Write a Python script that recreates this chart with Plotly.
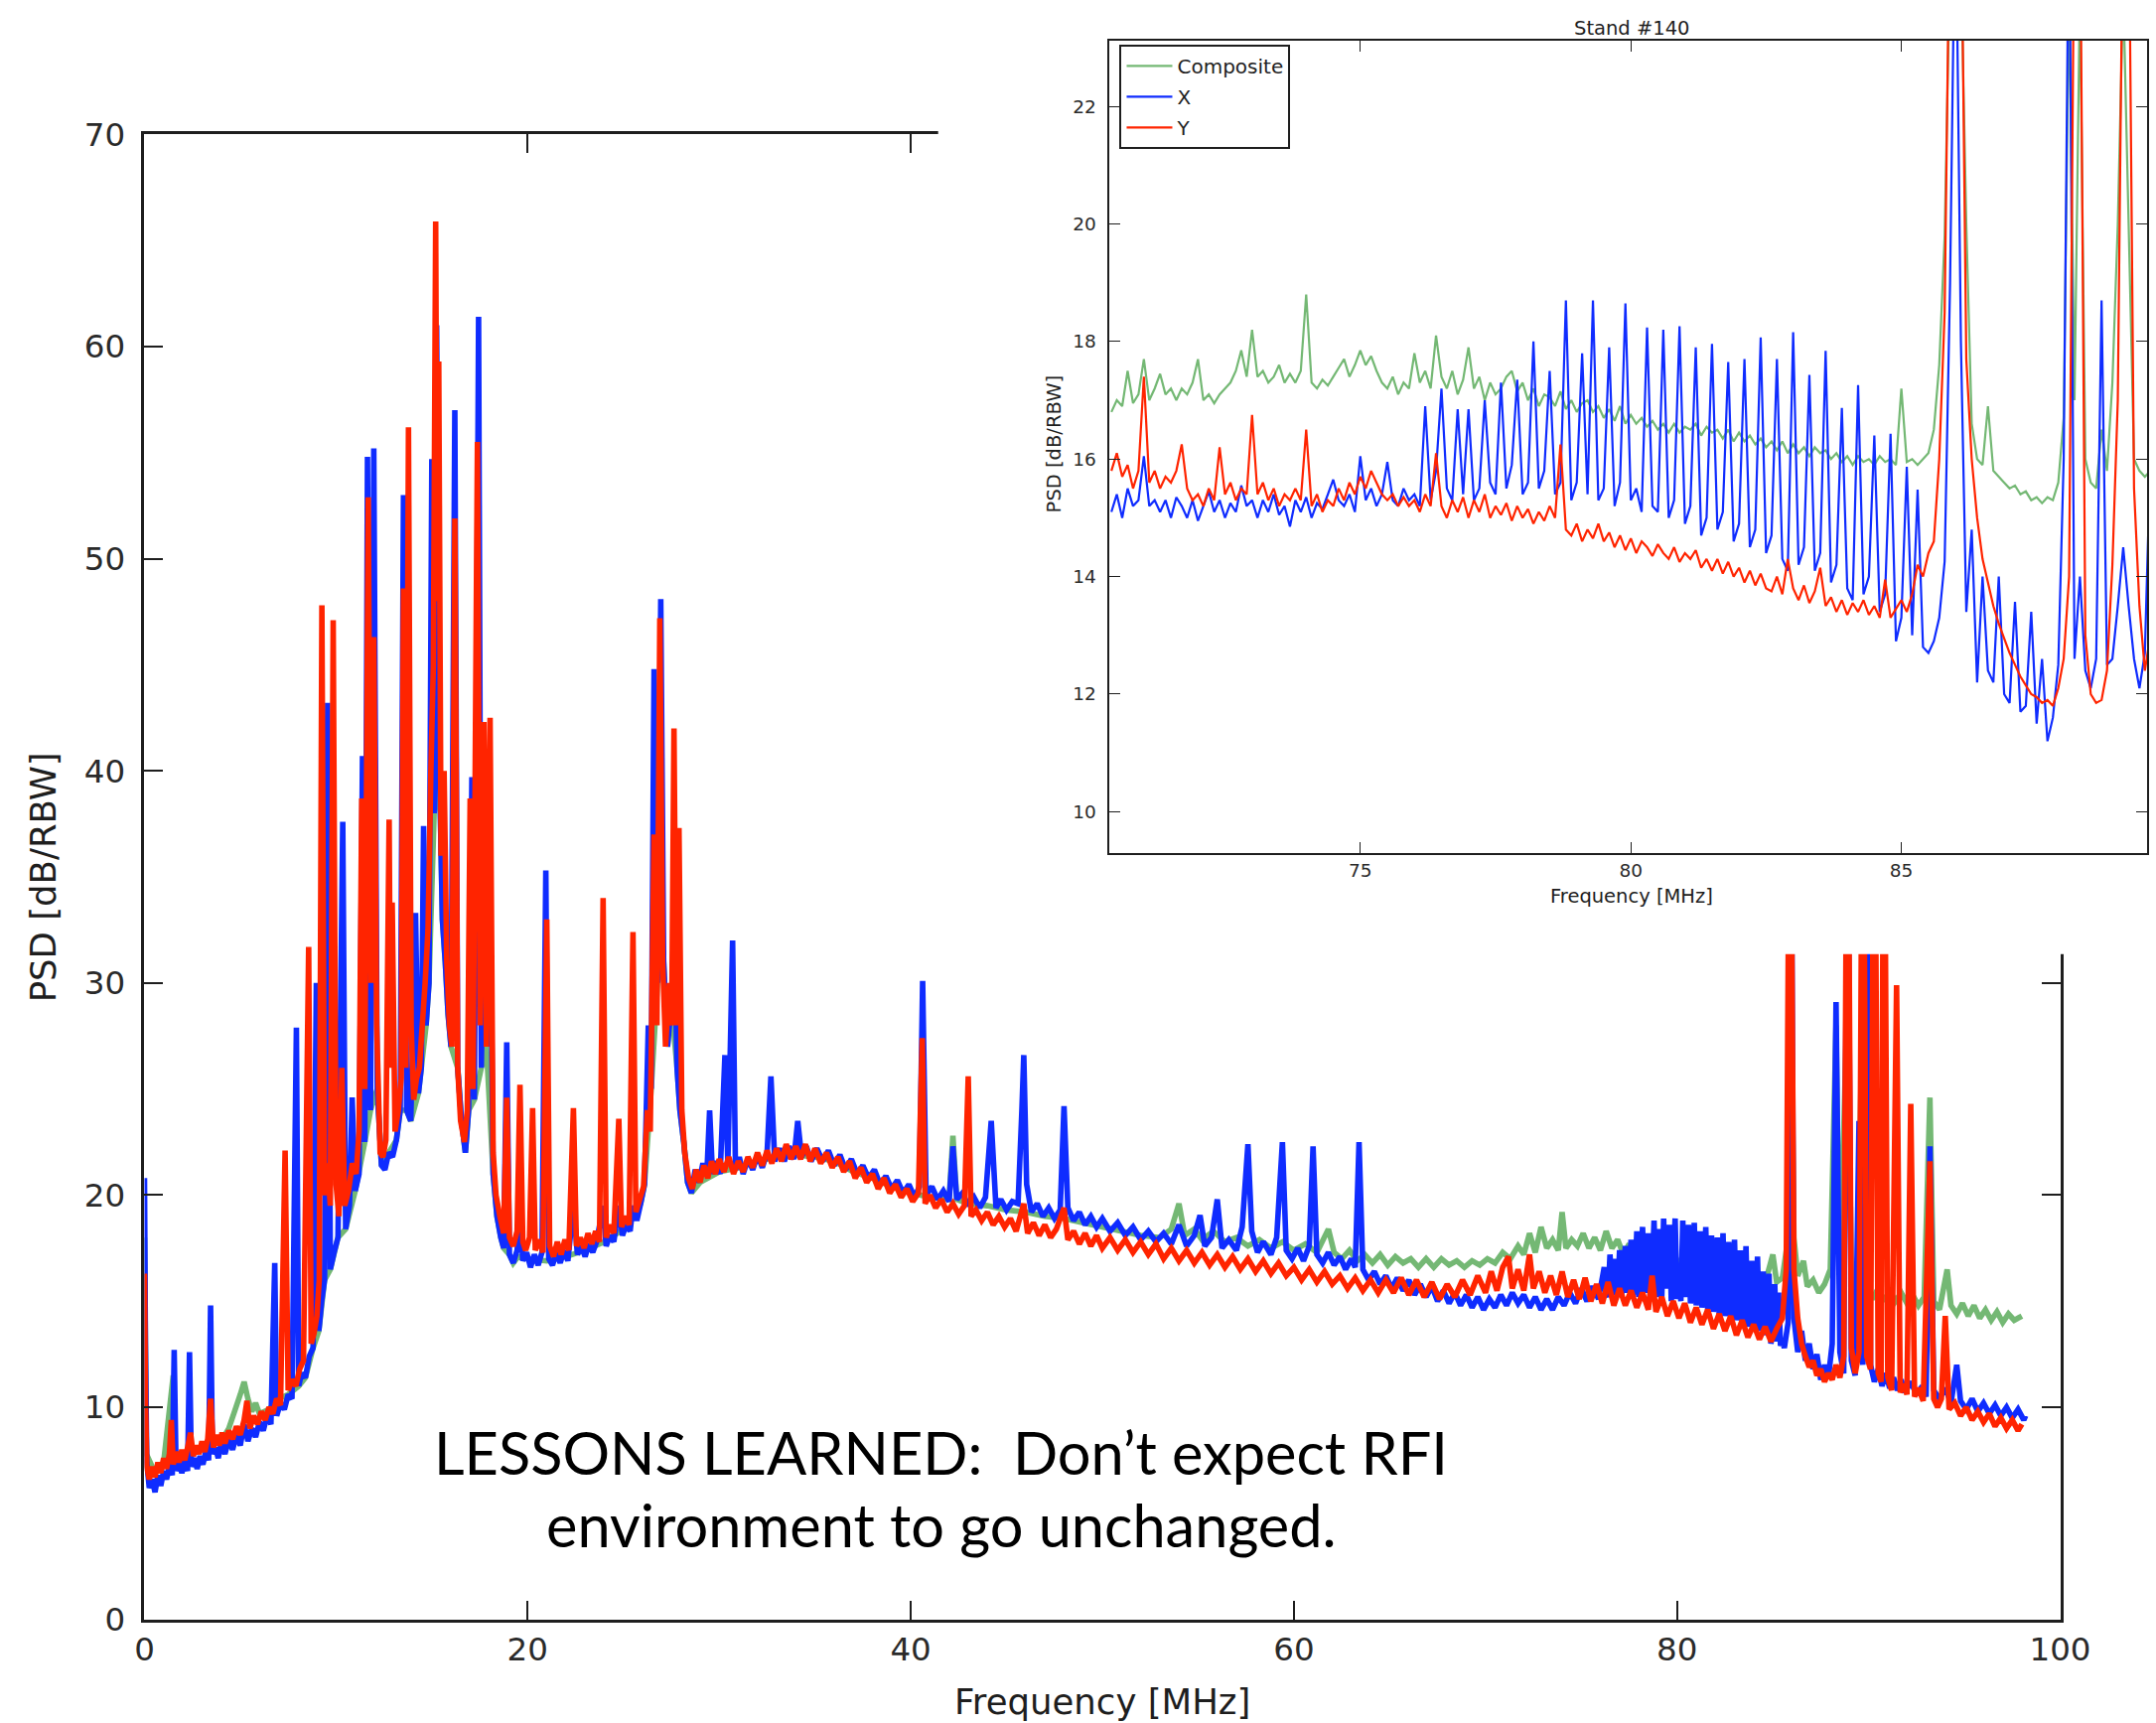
import plotly.graph_objects as go

# ---------------------------------------------------------------- main spectrum
# (frequency MHz, PSD dB/RBW) samples for each polarisation, 0-98 MHz
COMPOSITE_POINTS = [
    (0.0, 18.0), (0.1, 7.8), (0.5, 7.0), (1.0, 7.4), (1.5, 11.5), (1.6, 7.6), (2.0, 7.6), (2.5, 7.9),
    (3.0, 8.0), (3.5, 8.2), (4.0, 8.4), (4.4, 9.0), (4.7, 9.8), (5.0, 10.6), (5.2, 11.2), (5.4, 10.4),
    (5.6, 9.8), (5.8, 10.2), (6.0, 9.7), (6.5, 9.9), (7.0, 10.4), (7.5, 10.6), (8.05, 11.0),
    (8.4, 11.4), (8.8, 12.8), (9.1, 13.6), (9.4, 16.0), (9.7, 16.5), (10.1, 18.0), (10.5, 18.4),
    (11.0, 20.2), (11.5, 22.5), (11.8, 24.0), (12.15, 25.0), (12.37, 21.4), (12.75, 22.0),
    (13.15, 22.6), (13.35, 24.0), (13.68, 24.0), (13.9, 23.5), (14.3, 24.8), (14.45, 26.0),
    (14.7, 28.0), (14.85, 30.0), (15.12, 38.0), (15.4, 40.0), (15.55, 33.0), (15.7, 31.0),
    (15.85, 28.5), (16.0, 27.0), (16.35, 26.0), (16.55, 23.5), (16.75, 22.0), (16.92, 24.0),
    (17.22, 24.5), (17.58, 26.0), (17.85, 27.0), (18.2, 21.0), (18.4, 19.0), (18.6, 18.0),
    (18.75, 17.5), (19.05, 17.2), (19.25, 16.8), (19.5, 17.1), (20.0, 17.0), (21.0, 16.9),
    (22.0, 17.1), (23.0, 17.4), (24.0, 17.8), (25.0, 18.4), (25.9, 19.6), (26.1, 20.5), (26.45, 25.0),
    (26.78, 30.0), (27.1, 31.0), (27.3, 27.0), (27.5, 29.0), (27.8, 26.0), (27.95, 24.0), (28.15, 22.5),
    (28.35, 20.6), (28.55, 20.1), (29.0, 20.6),
    (30.0, 21.1), (31.0, 21.3), (32.0, 21.6), (33.0, 21.8), (34.0, 21.9), (35.0, 21.8), (36.0, 21.6),
    (37.0, 21.1), (38.0, 20.8), (39.0, 20.4), (40.0, 20.1), (41.0, 19.9), (42.0, 19.8), (42.2, 22.8),
    (42.4, 19.8), (43.0, 19.6), (44.0, 19.5), (45.0, 19.3), (46.0, 19.2), (47.0, 19.0), (48.0, 18.9),
    (49.0, 18.7), (50.0, 18.5), (51.0, 18.3), (52.0, 18.1), (53.0, 18.0), (53.6, 18.4), (54.0, 19.6),
    (54.3, 18.1), (54.8, 18.4), (55.2, 17.9), (55.8, 18.3), (56.4, 17.8), (57.0, 18.0), (57.6, 17.6),
    (58.2, 17.9), (58.8, 17.5), (59.4, 17.8), (60.0, 17.4), (60.6, 17.7), (61.2, 17.3), (61.8, 18.4),
    (62.1, 17.3), (62.5, 17.0), (62.9, 17.4), (63.3, 16.9), (63.7, 17.2), (64.1, 16.8), (64.5, 17.2),
    (64.9, 16.7), (65.3, 17.1), (65.7, 16.8), (66.1, 17.0), (66.5, 16.6), (66.9, 17.0), (67.3, 16.6),
    (67.7, 17.0), (68.1, 16.7), (68.5, 16.9), (68.9, 16.6), (69.3, 16.9), (69.7, 16.7), (70.1, 17.0),
    (70.5, 16.8), (70.9, 17.3), (71.3, 17.0), (71.7, 17.6), (72.0, 17.2), (72.3, 18.2), (72.6, 17.3),
    (72.9, 18.5), (73.2, 17.5), (73.5, 17.9), (73.8, 17.4), (74.0, 19.2), (74.2, 17.5), (74.5, 17.9),
    (74.8, 17.6), (75.1, 18.2), (75.4, 17.5), (75.7, 18.0), (76.0, 17.4), (76.3, 18.3), (76.6, 17.5),
    (76.9, 17.9), (77.2, 17.2), (77.5, 17.7), (77.8, 17.1), (78.1, 17.6), (78.4, 17.0), (78.7, 17.4),
    (79.0, 16.9), (79.3, 17.2), (79.6, 16.8), (79.9, 17.1), (80.2, 16.6), (80.5, 16.9), (80.8, 16.5),
    (81.1, 16.8), (81.4, 16.4), (81.7, 16.7), (82.0, 16.3), (82.3, 16.6), (82.6, 16.2), (82.9, 16.5),
    (83.2, 16.1), (83.5, 16.4), (83.8, 16.0), (84.1, 16.3), (84.4, 15.9), (84.7, 16.2), (85.0, 17.2),
    (85.2, 15.9), (85.5, 16.1), (85.8, 18.0), (85.95, 30.0), (86.1, 18.0), (86.3, 16.2), (86.6, 16.9),
    (86.8, 15.7), (87.1, 16.0), (87.4, 15.4), (87.7, 15.8), (88.0, 16.5), (88.3, 28.0), (88.5, 15.8),
    (88.9, 30.0), (89.1, 16.0), (89.4, 15.3), (89.7, 30.0), (89.9, 15.6), (90.2, 15.1), (90.5, 15.6),
    (90.8, 15.0), (91.1, 15.5), (91.4, 15.0), (91.7, 15.4), (92.0, 14.9), (92.3, 15.3), (92.6, 14.8),
    (92.9, 15.2), (93.2, 24.6), (93.4, 15.0), (93.7, 14.6), (94.1, 16.5), (94.3, 14.8), (94.6, 14.4),
    (94.9, 14.9), (95.2, 14.3), (95.5, 14.8), (95.8, 14.2), (96.1, 14.6), (96.4, 14.1), (96.7, 14.5),
    (97.0, 14.0), (97.3, 14.4), (97.6, 14.1), (98.0, 14.3),
]

X_POL_POINTS = [
    (0.0, 20.8), (0.05, 13.0), (0.12, 7.4), (0.25, 6.2), (0.4, 6.6), (0.55, 6.0), (0.7, 6.8), (0.85, 6.3),
    (1.0, 7.0), (1.15, 6.6), (1.3, 7.2), (1.45, 6.8), (1.55, 12.7), (1.65, 7.0), (1.8, 7.4), (1.95, 6.9),
    (2.1, 7.5), (2.25, 7.0), (2.35, 12.6), (2.45, 7.2), (2.6, 7.6), (2.75, 7.1), (2.9, 7.7), (3.05, 7.3),
    (3.2, 7.9), (3.35, 7.5), (3.45, 14.8), (3.55, 7.8), (3.7, 8.1), (3.85, 7.6), (4.0, 8.3), (4.2, 7.8),
    (4.4, 8.5), (4.6, 8.0), (4.8, 8.7), (5.0, 8.2), (5.2, 9.2), (5.4, 8.4), (5.6, 9.0), (5.8, 8.6),
    (6.0, 9.3), (6.2, 8.9), (6.4, 9.6), (6.6, 9.2), (6.8, 16.8), (6.9, 9.6), (7.1, 10.2), (7.3, 9.9),
    (7.5, 10.6), (7.7, 10.4), (7.93, 27.9), (8.05, 11.0), (8.2, 11.6), (8.4, 11.4), (8.6, 12.4),
    (8.8, 12.8), (8.97, 30.0), (9.1, 13.6), (9.25, 15.0), (9.4, 16.0), (9.56, 43.2), (9.7, 16.5),
    (9.9, 17.3), (10.1, 18.0), (10.35, 37.6), (10.5, 18.4), (10.7, 19.5), (10.84, 24.6), (11.0, 20.2),
    (11.2, 21.0), (11.38, 40.7), (11.5, 22.5), (11.64, 54.8), (11.8, 24.0), (11.97, 55.2), (12.15, 25.0),
    (12.37, 21.4), (12.55, 21.2), (12.75, 22.0), (12.95, 21.8), (13.15, 22.6), (13.35, 24.0),
    (13.52, 53.0), (13.68, 24.0), (13.9, 23.5), (14.15, 33.3), (14.3, 24.8), (14.45, 26.0),
    (14.57, 37.4), (14.7, 28.0), (14.85, 30.0), (15.0, 54.7), (15.12, 38.0), (15.25, 61.0),
    (15.4, 40.0), (15.55, 33.0), (15.7, 31.0), (15.85, 28.5), (16.0, 27.0), (16.2, 57.0), (16.35, 26.0),
    (16.55, 23.5), (16.75, 22.0), (16.92, 24.0), (17.09, 39.7), (17.22, 24.5), (17.44, 61.4),
    (17.58, 26.0), (17.72, 34.0), (17.85, 27.0), (18.04, 35.0), (18.2, 21.0), (18.4, 19.0), (18.6, 18.0),
    (18.75, 17.5), (18.91, 27.2), (19.05, 17.2), (19.25, 16.8), (19.45, 17.4), (19.6, 19.0),
    (19.75, 16.9), (19.95, 17.3), (20.15, 16.6), (20.35, 17.2), (20.55, 16.7), (20.75, 17.3),
    (20.95, 35.3), (21.1, 17.0), (21.3, 16.7), (21.5, 17.3), (21.7, 16.8), (21.9, 17.4), (22.1, 16.9),
    (22.39, 19.5), (22.6, 17.2), (22.8, 17.6), (23.0, 17.1), (23.2, 17.7), (23.4, 17.3), (23.6, 17.8),
    (23.94, 19.5), (24.1, 17.6), (24.3, 18.1), (24.5, 17.8), (24.76, 19.5), (24.95, 18.1), (25.15, 18.6),
    (25.35, 18.3), (25.5, 19.5), (25.7, 18.8), (25.9, 19.6), (26.1, 20.5), (26.3, 28.0), (26.45, 25.0),
    (26.6, 44.8), (26.78, 30.0), (26.95, 48.1), (27.1, 31.0), (27.3, 27.0), (27.5, 29.0), (27.65, 33.0),
    (27.8, 26.0), (27.95, 24.0), (28.15, 22.5), (28.35, 20.6), (28.55, 20.1), (28.75, 21.2),
    (28.95, 20.6), (29.15, 21.5), (29.35, 20.9), (29.5, 24.0), (29.65, 21.0), (29.85, 21.6),
    (30.05, 21.0), (30.3, 26.6), (30.45, 21.4), (30.7, 32.0), (30.85, 21.2), (31.05, 21.8),
    (31.25, 21.0), (31.5, 21.7), (31.75, 21.2), (32.0, 21.9), (32.25, 21.3), (32.5, 22.0), (32.7, 25.6),
    (32.9, 21.6), (33.15, 22.2), (33.4, 21.6), (33.65, 22.3), (33.9, 21.7), (34.1, 23.5), (34.3, 21.8),
    (34.55, 22.3), (34.8, 21.6), (35.1, 22.2), (35.4, 21.6), (35.7, 22.1), (36.0, 21.4), (36.3, 21.9),
    (36.6, 21.2), (36.9, 21.7), (37.2, 21.0), (37.5, 21.4), (37.8, 20.8), (38.1, 21.2), (38.4, 20.5),
    (38.7, 20.9), (39.0, 20.3), (39.3, 20.7), (39.6, 20.1), (39.9, 20.5), (40.2, 19.9), (40.45, 20.4),
    (40.62, 30.1), (40.8, 20.0), (41.1, 20.4), (41.4, 19.8), (41.7, 20.2), (42.0, 19.7), (42.2, 22.3),
    (42.4, 19.8), (42.7, 20.1), (43.0, 19.5), (43.3, 19.9), (43.6, 19.4), (43.9, 19.9), (44.2, 23.5),
    (44.45, 19.4), (44.7, 19.8), (45.0, 19.3), (45.3, 19.7), (45.6, 19.6), (45.8, 24.0), (45.9, 26.6),
    (46.05, 20.5), (46.3, 19.2), (46.6, 19.6), (46.9, 19.0), (47.2, 19.4), (47.5, 18.9), (47.8, 19.3),
    (48.0, 24.2), (48.2, 19.4), (48.5, 18.8), (48.8, 19.2), (49.1, 18.6), (49.4, 19.0), (49.7, 18.5),
    (50.0, 18.9), (50.4, 18.3), (50.8, 18.7), (51.2, 18.1), (51.6, 18.5), (52.0, 17.9), (52.4, 18.3),
    (52.8, 17.8), (53.2, 18.2), (53.6, 17.7), (54.0, 18.6), (54.4, 17.6), (54.8, 18.1), (55.1, 19.05),
    (55.35, 17.6), (55.7, 18.0), (56.0, 19.8), (56.25, 17.5), (56.6, 17.9), (57.0, 17.4), (57.3, 18.5),
    (57.6, 22.4), (57.8, 18.3), (58.1, 17.3), (58.4, 17.8), (58.8, 17.2), (59.1, 18.0), (59.4, 22.5),
    (59.6, 17.4), (59.9, 17.0), (60.2, 17.5), (60.5, 16.9), (60.8, 17.6), (61.0, 22.3), (61.2, 17.2),
    (61.5, 16.8), (61.8, 17.3), (62.1, 16.7), (62.4, 17.1), (62.7, 16.5), (63.0, 17.0), (63.2, 16.6),
    (63.4, 22.5), (63.6, 16.5), (63.9, 16.0), (64.2, 16.4), (64.5, 15.8), (64.8, 16.2), (65.1, 15.6),
    (65.4, 16.1), (65.7, 15.5), (66.0, 16.0), (66.3, 15.3), (66.6, 15.8), (66.9, 15.2), (67.2, 15.7),
    (67.5, 15.0), (67.8, 15.5), (68.1, 14.9), (68.4, 15.4), (68.7, 14.8), (69.0, 15.3), (69.3, 14.7),
    (69.6, 15.2), (69.9, 14.6), (70.2, 15.1), (70.5, 14.7), (70.8, 15.3), (71.1, 14.8), (71.4, 15.4),
    (71.7, 14.9), (72.0, 15.3), (72.3, 14.7), (72.6, 15.2), (72.9, 14.6), (73.2, 15.1), (73.5, 14.6),
    (73.8, 15.2), (74.1, 14.8), (74.4, 15.4), (74.7, 14.9), (75.0, 15.6), (75.3, 15.0), (75.6, 15.7),
    (75.9, 15.1),
    # dense comb of narrow lines between 76 and 86 MHz
    (76.2, 16.6), (76.3, 15.4), (76.4, 15.2), (76.5, 17.2), (76.6, 15.6), (76.7, 15.3), (76.8, 17.0),
    (76.9, 15.4), (77.0, 17.4), (77.1, 15.3), (77.2, 15.8), (77.3, 17.6), (77.4, 15.4), (77.5, 16.2),
    (77.6, 17.9), (77.7, 15.3), (77.8, 16.0), (77.9, 18.3), (78.0, 15.2), (78.1, 16.4), (78.2, 18.5),
    (78.3, 15.4), (78.4, 16.6), (78.5, 18.2), (78.6, 15.1), (78.7, 16.3), (78.8, 18.8), (78.9, 15.2),
    (79.0, 16.8), (79.1, 18.4), (79.2, 15.0), (79.3, 18.9), (79.4, 15.6), (79.5, 16.2), (79.6, 18.6),
    (79.7, 15.0), (79.8, 16.5), (79.9, 18.9), (80.0, 15.1), (80.1, 16.4), (80.2, 15.0), (80.3, 18.8),
    (80.4, 15.2), (80.5, 16.3), (80.6, 18.6), (80.7, 14.9), (80.8, 16.0), (80.9, 18.7), (81.0, 14.8),
    (81.1, 16.1), (81.2, 18.3), (81.3, 14.7), (81.4, 15.8), (81.5, 18.5), (81.6, 14.6), (81.7, 15.9),
    (81.8, 18.1), (81.9, 14.5), (82.0, 15.6), (82.1, 18.0), (82.2, 14.4), (82.3, 15.5), (82.4, 18.2),
    (82.5, 14.3), (82.6, 15.4), (82.7, 17.8), (82.8, 14.2), (82.9, 14.6), (83.0, 17.9), (83.1, 14.1),
    (83.2, 15.0), (83.3, 17.4), (83.4, 14.0), (83.5, 14.9), (83.6, 17.6), (83.7, 13.8), (83.8, 14.6),
    (83.9, 16.9), (84.0, 13.7), (84.1, 13.9), (84.2, 17.1), (84.3, 13.6), (84.4, 14.4), (84.5, 16.4),
    (84.6, 13.4), (84.7, 14.0), (84.8, 16.3), (84.9, 13.0), (85.0, 13.6), (85.1, 15.8), (85.2, 13.1),
    (85.3, 15.4), (85.4, 12.9), (85.5, 13.2), (85.6, 12.8), (85.7, 13.4), (85.8, 14.0),
    (85.95, 40.0), (86.1, 14.2), (86.3, 12.6), (86.5, 13.6), (86.7, 12.2), (86.9, 13.0),
    (87.1, 11.8), (87.3, 12.5), (87.5, 11.3), (87.7, 12.0), (87.9, 11.4), (88.1, 13.0), (88.3, 29.1),
    (88.5, 12.6), (88.7, 11.6), (88.9, 40.0), (89.1, 12.2), (89.3, 11.5), (89.5, 23.5), (89.7, 12.0),
    (89.9, 40.0), (90.1, 12.0), (90.3, 11.2), (90.5, 11.8), (90.7, 11.0), (90.9, 11.6), (91.1, 10.9),
    (91.3, 11.4), (91.5, 10.8), (91.7, 11.3), (91.9, 10.7), (92.2, 11.2), (92.5, 10.6), (92.8, 11.0),
    (93.0, 10.5), (93.2, 22.3), (93.4, 10.8), (93.7, 10.4), (94.0, 10.9), (94.3, 10.2), (94.6, 12.0),
    (94.8, 10.3), (95.1, 9.9), (95.4, 10.4), (95.7, 9.8), (96.0, 10.2), (96.3, 9.7), (96.6, 10.1),
    (96.9, 9.6), (97.2, 10.0), (97.5, 9.5), (97.8, 9.9), (98.1, 9.4), (98.2, 9.6),
]

Y_POL_POINTS = [
    (0.0, 16.3), (0.05, 10.5), (0.12, 7.2), (0.25, 6.6), (0.4, 7.2), (0.55, 6.7), (0.7, 7.4), (0.85, 6.9),
    (1.0, 7.6), (1.15, 7.1), (1.3, 7.8), (1.4, 9.4), (1.5, 7.3), (1.65, 7.9), (1.8, 7.4), (1.95, 8.0),
    (2.1, 7.5), (2.25, 8.1), (2.4, 8.8), (2.55, 7.7), (2.7, 8.2), (2.85, 7.8), (3.0, 8.4), (3.15, 7.9),
    (3.3, 8.5), (3.45, 10.4), (3.6, 8.1), (3.75, 8.7), (3.9, 8.2), (4.05, 8.8), (4.2, 8.3), (4.4, 8.9),
    (4.6, 8.5), (4.8, 9.1), (5.0, 8.7), (5.2, 9.4), (5.35, 10.3), (5.5, 9.0), (5.7, 9.6), (5.9, 9.2),
    (6.1, 9.8), (6.3, 9.4), (6.5, 10.0), (6.7, 9.7), (6.9, 10.4), (7.1, 10.1), (7.34, 22.1), (7.5, 10.8),
    (7.7, 11.3), (7.9, 11.0), (8.1, 11.8), (8.3, 12.2), (8.57, 31.7), (8.7, 13.0), (8.85, 13.5),
    (9.0, 14.3), (9.12, 16.0), (9.26, 47.8), (9.4, 20.0), (9.55, 21.5), (9.7, 19.5), (9.85, 47.1),
    (10.0, 20.5), (10.15, 19.0), (10.3, 26.0), (10.45, 19.5), (10.65, 20.2), (10.85, 21.5), (11.05, 21.0),
    (11.2, 23.0), (11.34, 38.7), (11.5, 25.0), (11.68, 52.9), (11.83, 30.0), (11.97, 46.3), (12.12, 28.0),
    (12.3, 22.0), (12.45, 21.8), (12.6, 22.6), (12.77, 37.7), (12.85, 26.0), (12.93, 33.8), (13.08, 23.0),
    (13.25, 24.0), (13.4, 25.5), (13.52, 48.6), (13.64, 26.0), (13.78, 56.2), (13.92, 28.0), (14.05, 24.5),
    (14.2, 25.5), (14.35, 26.0), (14.5, 28.0), (14.65, 30.0), (14.8, 32.5), (14.95, 40.0), (15.08, 45.0),
    (15.2, 65.9), (15.28, 48.0), (15.36, 59.3), (15.48, 36.0), (15.64, 40.0), (15.78, 31.0),
    (15.92, 28.0), (16.05, 27.0), (16.2, 51.9), (16.35, 26.0), (16.5, 23.5), (16.7, 22.5), (16.85, 24.0),
    (17.0, 38.7), (17.15, 25.0), (17.38, 55.5), (17.52, 28.0), (17.72, 42.3), (17.85, 27.0),
    (18.04, 42.5), (18.2, 22.0), (18.35, 20.0), (18.55, 19.0), (18.75, 18.2), (18.91, 24.6),
    (19.05, 18.0), (19.25, 17.6), (19.45, 18.3), (19.6, 25.2), (19.75, 17.8), (19.9, 17.4), (20.1, 18.0),
    (20.26, 24.1), (20.4, 17.4), (20.6, 17.9), (20.8, 17.3), (21.0, 33.0), (21.15, 17.6), (21.35, 17.1),
    (21.55, 17.8), (21.75, 17.2), (21.95, 17.9), (22.15, 17.4), (22.39, 24.1), (22.55, 17.6),
    (22.75, 18.0), (22.95, 17.5), (23.15, 18.2), (23.35, 17.7), (23.55, 18.3), (23.75, 17.8),
    (23.94, 34.0), (24.1, 18.0), (24.3, 18.6), (24.5, 18.2), (24.76, 23.6), (24.9, 18.5), (25.1, 19.0),
    (25.3, 18.6), (25.5, 32.4), (25.65, 19.2), (25.85, 19.8), (26.05, 20.4), (26.25, 24.0), (26.4, 23.0),
    (26.6, 37.0), (26.75, 28.0), (26.9, 47.2), (27.05, 31.0), (27.2, 27.0), (27.4, 30.0), (27.52, 28.0),
    (27.64, 42.0), (27.76, 28.0), (27.9, 37.3), (28.05, 24.0), (28.2, 22.0), (28.4, 20.8), (28.6, 20.3),
    (28.8, 21.2), (29.0, 20.6), (29.2, 21.4), (29.4, 20.8), (29.6, 21.6), (29.8, 21.0), (30.0, 21.7),
    (30.25, 21.1), (30.5, 21.8), (30.75, 21.0), (31.0, 21.6), (31.25, 21.1), (31.5, 21.8), (31.75, 21.3),
    (32.0, 22.0), (32.25, 21.4), (32.5, 22.1), (32.75, 21.5), (33.0, 22.2), (33.25, 21.6), (33.5, 22.4),
    (33.75, 21.7), (34.0, 22.3), (34.25, 21.7), (34.5, 22.4), (34.75, 21.6), (35.0, 22.2), (35.3, 21.5),
    (35.6, 22.0), (35.9, 21.3), (36.2, 21.8), (36.5, 21.1), (36.8, 21.6), (37.1, 20.8), (37.4, 21.3),
    (37.7, 20.6), (38.0, 21.0), (38.3, 20.3), (38.6, 20.8), (38.9, 20.1), (39.2, 20.5), (39.5, 19.9),
    (39.8, 20.3), (40.1, 19.7), (40.4, 20.1), (40.6, 27.4), (40.75, 19.6), (41.0, 20.0), (41.3, 19.4),
    (41.6, 19.8), (41.9, 19.2), (42.2, 19.6), (42.5, 19.1), (42.8, 19.5), (43.0, 25.6), (43.15, 19.0),
    (43.4, 19.3), (43.7, 18.8), (44.0, 19.2), (44.3, 18.6), (44.6, 19.0), (44.9, 18.5), (45.2, 18.9),
    (45.5, 18.3), (45.9, 19.6), (46.1, 18.2), (46.4, 18.7), (46.7, 18.1), (47.0, 18.6), (47.3, 18.0),
    (47.6, 18.4), (48.0, 19.4), (48.2, 17.9), (48.5, 18.3), (48.8, 17.7), (49.1, 18.2), (49.4, 17.6),
    (49.7, 18.1), (50.0, 17.5), (50.4, 18.0), (50.8, 17.4), (51.2, 17.9), (51.6, 17.3), (52.0, 17.8),
    (52.4, 17.2), (52.8, 17.7), (53.2, 17.0), (53.6, 17.5), (54.0, 16.9), (54.4, 17.4), (54.8, 16.8),
    (55.2, 17.3), (55.6, 16.7), (56.0, 17.2), (56.4, 16.6), (56.8, 17.1), (57.2, 16.5), (57.6, 17.0),
    (58.0, 16.4), (58.4, 16.9), (58.8, 16.3), (59.2, 16.8), (59.6, 16.2), (60.0, 16.6), (60.4, 16.0),
    (60.8, 16.5), (61.2, 15.9), (61.6, 16.4), (62.0, 15.8), (62.4, 16.2), (62.8, 15.6), (63.2, 16.1),
    (63.6, 15.5), (64.0, 16.0), (64.4, 15.4), (64.8, 16.0), (65.2, 15.4), (65.6, 16.1), (66.0, 15.3),
    (66.4, 16.0), (66.8, 15.2), (67.2, 15.9), (67.6, 15.1), (68.0, 15.8), (68.4, 15.2), (68.8, 16.0),
    (69.2, 15.3), (69.6, 16.2), (70.0, 15.4), (70.3, 16.4), (70.6, 15.5), (70.9, 16.6), (71.2, 17.1),
    (71.4, 15.6), (71.7, 16.5), (72.0, 15.5), (72.3, 17.2), (72.5, 15.6), (72.8, 16.4), (73.1, 15.4),
    (73.4, 16.2), (73.7, 15.3), (74.0, 16.4), (74.3, 15.2), (74.6, 16.0), (74.9, 15.1), (75.2, 16.1),
    (75.5, 15.0), (75.8, 15.8), (76.1, 14.9), (76.4, 15.9), (76.7, 14.8), (77.0, 15.6), (77.3, 14.8),
    (77.6, 15.5), (77.9, 14.7), (78.2, 15.4), (78.5, 14.6), (78.7, 16.2), (78.9, 14.5), (79.2, 15.2),
    (79.5, 14.3), (79.8, 15.0), (80.1, 14.2), (80.4, 14.9), (80.7, 14.0), (81.0, 14.7), (81.3, 13.9),
    (81.6, 14.6), (81.9, 13.7), (82.2, 14.4), (82.5, 13.6), (82.8, 14.3), (83.1, 13.4), (83.4, 14.1),
    (83.7, 13.3), (84.0, 13.9), (84.3, 13.2), (84.6, 13.8), (84.9, 13.1), (85.2, 13.7), (85.5, 14.2),
    (85.7, 16.5), (85.9, 45.0), (86.1, 16.5), (86.3, 14.2), (86.5, 13.0), (86.7, 12.4), (86.9, 11.9),
    (87.1, 12.2), (87.3, 11.5), (87.5, 11.8), (87.7, 11.2), (87.9, 11.6), (88.1, 11.3), (88.3, 12.0),
    (88.5, 11.4), (88.7, 12.4), (88.9, 45.0), (89.1, 12.8), (89.3, 11.6), (89.5, 12.6), (89.7, 45.0),
    (89.9, 12.4), (90.1, 11.8), (90.3, 45.0), (90.5, 11.6), (90.65, 11.2), (90.8, 45.0), (91.0, 11.4),
    (91.2, 10.8), (91.46, 29.9), (91.65, 10.7), (91.85, 11.1), (92.0, 10.6), (92.2, 24.3), (92.4, 10.5),
    (92.6, 10.9), (92.85, 10.3), (93.2, 21.6), (93.4, 10.4), (93.6, 10.0), (93.8, 10.4), (94.0, 14.3),
    (94.2, 9.9), (94.5, 10.2), (94.8, 9.6), (95.1, 10.0), (95.4, 9.4), (95.7, 9.8), (96.0, 9.3),
    (96.3, 9.7), (96.6, 9.1), (96.9, 9.5), (97.2, 9.0), (97.5, 9.4), (97.8, 8.9), (98.0, 9.2),
]

# ---------------------------------------------------------------- zoomed spectrum
# Stand #140, sampled every 0.1 MHz from 70.4 MHz; one row per MHz
ZOOM_START_MHZ = 70.4
ZOOM_STEP_MHZ = 0.1

ZOOM_COMPOSITE = [
    16.8, 17.0, 16.9, 17.5, 16.95, 17.1,
    17.7, 17.0, 17.2, 17.45, 17.1, 17.2, 17.0, 17.2, 17.1, 17.3,
    17.7, 17.0, 17.1, 16.95, 17.1, 17.2, 17.3, 17.5, 17.85, 17.4,
    18.2, 17.4, 17.5, 17.3, 17.4, 17.6, 17.3, 17.45, 17.3, 17.5,
    18.8, 17.3, 17.2, 17.35, 17.25, 17.4, 17.55, 17.7, 17.4, 17.6,
    17.85, 17.6, 17.75, 17.5, 17.3, 17.2, 17.4, 17.1, 17.3, 17.2,
    17.8, 17.3, 17.5, 17.2, 18.1, 17.4, 17.2, 17.5, 17.1, 17.35,
    17.9, 17.2, 17.4, 17.0, 17.3, 17.1, 17.2, 17.4, 17.5, 17.15,
    17.3, 17.0, 17.2, 16.9, 17.1, 17.05, 16.9, 17.15, 16.85, 17.0,
    16.8, 16.95, 17.0, 16.8, 16.9, 16.7, 16.85, 16.65, 16.9, 16.6,
    16.75, 16.6, 16.7, 16.55, 16.65, 16.5, 16.6, 16.45, 16.6, 16.45,
    16.55, 16.5, 16.6, 16.4, 16.55, 16.45, 16.5, 16.35, 16.5, 16.3,
    16.45, 16.3, 16.4, 16.25, 16.35, 16.2, 16.3, 16.15, 16.3, 16.1,
    16.25, 16.1, 16.2, 16.05, 16.2, 16.1, 16.15, 16.0, 16.1, 15.95,
    16.05, 15.9, 16.05, 15.95, 16.0, 15.9, 16.05, 15.95, 16.0, 15.9,
    17.2, 15.95, 16.0, 15.9, 16.0, 16.1, 16.5, 17.6, 19.8, 24.5,
    26.0, 24.5, 20.0, 16.6, 16.0, 15.9, 16.9, 15.8, 15.7, 15.6,
    15.5, 15.55, 15.4, 15.45, 15.3, 15.35, 15.25, 15.35, 15.3, 15.6,
    16.7, 24.0, 17.0, 24.0, 16.0, 15.6, 15.5, 16.5, 15.8, 17.3,
    20.0, 24.0, 20.0, 16.0, 15.8, 15.7, 15.8, 24.0,
]

ZOOM_X_POL = [
    15.1, 15.4, 15.0, 15.5, 15.2, 15.3,
    16.05, 15.2, 15.3, 15.1, 15.3, 15.0, 15.35, 15.2, 15.0, 15.3,
    14.95, 15.2, 15.45, 15.1, 15.3, 15.0, 15.25, 15.1, 15.55, 15.2,
    15.3, 15.0, 15.3, 15.1, 15.4, 15.05, 15.2, 14.85, 15.3, 15.1,
    15.35, 15.0, 15.25, 15.15, 15.4, 15.65, 15.3, 15.2, 15.4, 15.1,
    16.05, 15.3, 15.5, 15.2, 15.4, 15.95, 15.3, 15.2, 15.5, 15.3,
    15.4, 15.2, 16.9, 15.3, 15.8, 17.2, 15.5, 15.3, 16.85, 15.4,
    16.85, 15.3, 15.5, 17.0, 15.6, 15.4, 17.3, 15.5, 15.9, 17.35,
    15.4, 15.6, 18.0, 15.5, 15.8, 17.5, 15.4, 15.6, 18.7, 15.3,
    15.6, 17.8, 15.4, 18.7, 15.3, 15.5, 17.9, 15.2, 15.6, 18.65,
    15.3, 15.5, 15.1, 18.24, 15.2, 15.1, 18.2, 15.0, 15.3, 18.26,
    14.9, 15.2, 17.9, 14.7, 15.0, 17.96, 14.8, 15.1, 17.65, 14.6,
    14.9, 17.7, 14.5, 14.8, 18.07, 14.4, 14.7, 17.7, 14.3, 14.1,
    18.16, 14.2, 14.5, 17.43, 14.1, 14.4, 17.84, 13.9, 14.2, 16.87,
    13.8, 13.6, 17.26, 13.7, 14.0, 16.4, 13.4, 13.7, 16.43, 12.9,
    13.3, 15.87, 13.0, 15.48, 12.8, 12.7, 12.9, 13.3, 14.26, 19.0,
    26.0, 18.0, 13.4, 14.8, 12.2, 14.0, 12.4, 12.2, 14.0, 12.0,
    11.85, 13.57, 11.7, 11.8, 13.4, 11.5, 12.6, 11.2, 11.6, 12.5,
    16.0, 26.0, 12.6, 14.0, 12.4, 12.1, 12.6, 18.7, 12.5, 12.6,
    13.5, 14.5, 13.5, 12.6, 12.1, 12.7, 16.0, 26.0,
]

ZOOM_Y_POL = [
    15.8, 16.1, 15.7, 15.9, 15.5, 15.8,
    17.4, 15.6, 15.8, 15.5, 15.7, 15.6, 15.8, 16.25, 15.5, 15.3,
    15.4, 15.2, 15.5, 15.3, 16.2, 15.4, 15.6, 15.3, 15.5, 15.4,
    16.75, 15.4, 15.6, 15.3, 15.5, 15.2, 15.4, 15.3, 15.5, 15.3,
    16.5, 15.2, 15.4, 15.1, 15.3, 15.2, 15.5, 15.3, 15.6, 15.4,
    15.7, 15.5, 15.8, 15.6, 15.4, 15.3, 15.4, 15.2, 15.35, 15.2,
    15.3, 15.1, 15.4, 15.2, 16.1, 15.2, 15.0, 15.3, 15.1, 15.35,
    15.0, 15.3, 15.1, 15.4, 15.0, 15.2, 15.05, 15.25, 14.95, 15.2,
    15.0, 15.15, 14.9, 15.1, 14.95, 15.2, 15.0, 16.25, 14.8, 14.7,
    14.9, 14.6, 14.8, 14.65, 14.9, 14.6, 14.75, 14.5, 14.7, 14.45,
    14.65, 14.4, 14.6, 14.5, 14.35, 14.55, 14.4, 14.3, 14.5, 14.25,
    14.4, 14.3, 14.45, 14.15, 14.3, 14.1, 14.3, 14.05, 14.25, 14.0,
    14.15, 13.9, 14.1, 13.85, 14.05, 13.8, 13.75, 14.0, 13.7, 14.3,
    13.8, 13.6, 13.85, 13.55, 13.75, 14.15, 13.5, 13.65, 13.4, 13.6,
    13.35, 13.55, 13.4, 13.6, 13.35, 13.5, 13.3, 13.95, 13.3, 13.45,
    13.6, 13.4, 13.7, 14.2, 14.0, 14.4, 14.6, 16.0, 18.5, 26.0,
    24.0, 26.0, 17.7, 16.0, 15.0, 14.3, 13.9, 13.5, 13.2, 12.95,
    12.7, 12.5, 12.3, 12.15, 12.0, 11.95, 11.85, 11.9, 11.8, 12.1,
    12.6, 14.0, 26.0, 26.0, 13.0, 12.0, 11.85, 11.9, 12.4, 14.2,
    17.0, 26.0, 26.0, 15.5, 13.5, 12.4, 13.0, 16.8,
]

SERIES_NAMES = ["Composite", "X", "Y"]
MAIN_X_TICKS = [0, 20, 40, 60, 80, 100]
MAIN_Y_TICKS = [0, 10, 20, 30, 40, 50, 60, 70]
ZOOM_X_TICKS = [75, 80, 85]
ZOOM_Y_TICKS = [10, 12, 14, 16, 18, 20, 22]

COLORS = {"Composite": "#74b874", "X": "#0f2cff", "Y": "#ff2400"}

# ---------------------------------------------------------------- page geometry
FIG_W, FIG_H = 2194, 1756
AXIS_FONT = "DejaVu Sans"
INK = "#1e1e1e"

# layout positions below are given on a 2171 x 1735 design grid;
# these map a grid position to a figure pixel
GRID_SCALE_X, GRID_SHIFT_X = 1.018, -7.5
GRID_SCALE_Y, GRID_SHIFT_Y = 1.022, -17.5


def fig_x(gx):
    return GRID_SCALE_X * gx + GRID_SHIFT_X


def fig_y(gy):
    return GRID_SCALE_Y * gy + GRID_SHIFT_Y


def px_x(gx):
    return min(1.0, max(0.0, fig_x(gx) / FIG_W))


def px_y(gy):
    return min(1.0, max(0.0, 1 - fig_y(gy) / FIG_H))


# zoomed panel: 54.54 grid px per MHz starting at 70.37 MHz on its left spine
ZOOM_LEFT = 1116
ZOOM_X_MIN = 70.37
zoom_right_fig = FIG_W - 1
ZOOM_X_MAX = ZOOM_X_MIN + (zoom_right_fig - fig_x(ZOOM_LEFT)) / (54.54 * GRID_SCALE_X)

fig = go.Figure()

# full-band spectrum (bottom subplot)
for name, pts in zip(SERIES_NAMES, [COMPOSITE_POINTS, X_POL_POINTS, Y_POL_POINTS]):
    f, p = zip(*pts)
    fig.add_trace(go.Scatter(
        x=list(f), y=list(p), mode="lines", xaxis="x", yaxis="y",
        line=dict(color=COLORS[name], width=5.6, simplify=False),
        showlegend=False, hoverinfo="skip",
    ))

# blank panel that sits under the zoomed view
fig.add_trace(go.Scatter(x=[None], y=[None], xaxis="x2", yaxis="y2",
                         showlegend=False, hoverinfo="skip"))

# zoomed spectrum
for name, vals in zip(SERIES_NAMES, [ZOOM_COMPOSITE, ZOOM_X_POL, ZOOM_Y_POL]):
    fig.add_trace(go.Scatter(
        x0=ZOOM_START_MHZ, dx=ZOOM_STEP_MHZ, y=vals, mode="lines", name=name,
        legendgroup=name, xaxis="x3", yaxis="y3",
        line=dict(color=COLORS[name], width=2.2, simplify=False),
        hoverinfo="skip",
    ))

main_axis = dict(
    showline=True, linewidth=2.6, linecolor=INK, mirror="ticks",
    ticks="inside", ticklen=19, tickwidth=1.6, tickcolor=INK,
    showgrid=False, zeroline=False,
    tickfont=dict(family=AXIS_FONT, size=32.5, color="#2a2a2a"),
)
zoom_axis = dict(
    showline=True, linewidth=2, linecolor=INK, mirror="ticks",
    ticks="inside", ticklen=11, tickwidth=1.2, tickcolor=INK,
    showgrid=False, zeroline=False,
    tickfont=dict(family=AXIS_FONT, size=18.5, color="#2a2a2a"),
)

fig.update_layout(
    width=FIG_W, height=FIG_H,
    margin=dict(l=0, r=0, t=0, b=0),
    paper_bgcolor="white", plot_bgcolor="white",
    font=dict(family=AXIS_FONT, color=INK),
    xaxis=dict(domain=[px_x(143), px_x(2074)], range=[0, 100], tickvals=MAIN_X_TICKS,
               anchor="y", ticklabelstandoff=0, **main_axis),
    yaxis=dict(domain=[px_y(1629), px_y(133.5)], range=[0, 70], tickvals=MAIN_Y_TICKS,
               anchor="x", ticklabelstandoff=10, **main_axis),
    xaxis2=dict(domain=[px_x(943), 1.0], range=[0, 1], visible=False, anchor="y2"),
    yaxis2=dict(domain=[px_y(959), 1.0], range=[0, 1], visible=False, anchor="x2"),
    xaxis3=dict(domain=[px_x(ZOOM_LEFT), zoom_right_fig / FIG_W], range=[ZOOM_X_MIN, ZOOM_X_MAX],
                tickvals=ZOOM_X_TICKS, anchor="y3", ticklabelstandoff=0, **zoom_axis),
    yaxis3=dict(domain=[px_y(857), px_y(39)], range=[9.3, 23.12], tickvals=ZOOM_Y_TICKS,
                anchor="x3", ticklabelstandoff=8, **zoom_axis),
    legend=dict(
        x=px_x(1126), y=px_y(43), xanchor="left", yanchor="top",
        bgcolor="white", bordercolor=INK, borderwidth=2,
        font=dict(family=AXIS_FONT, size=20, color=INK),
        traceorder="grouped", tracegroupgap=2, itemwidth=46,
    ),
    showlegend=True,
)

texts = [
    dict(text="Frequency [MHz]", x=1108, y=1712, size=35.5),
    dict(text="PSD [dB/RBW]", x=41, y=882, size=35.5, textangle=-90),
    dict(text="Frequency [MHz]", x=1642, y=901, size=19.5),
    dict(text="PSD [dB/RBW]", x=1060, y=446, size=19.5, textangle=-90),
]
for t in texts:
    fig.add_annotation(
        text=t["text"], x=px_x(t["x"]), y=px_y(t["y"]), xref="paper", yref="paper",
        xanchor="center", yanchor="middle", showarrow=False,
        textangle=t.get("textangle", 0),
        font=dict(family=AXIS_FONT, size=t["size"], color=INK),
    )

# panel title, held just inside the top edge of the figure
fig.add_annotation(
    text="Stand #140", x=px_x(1642), y=1.0, xref="paper", yref="paper",
    xanchor="center", yanchor="top", showarrow=False, yshift=4,
    font=dict(family=AXIS_FONT, size=19.5, color=INK),
)

for line, gy in [("LESSONS LEARNED:  Don\u2019t expect RFI", 1460),
                 ("environment to go unchanged.", 1533)]:
    fig.add_annotation(
        text=line, x=px_x(946), y=px_y(gy), xref="paper", yref="paper",
        xanchor="center", yanchor="middle", showarrow=False,
        font=dict(family="Lato", size=59.5, color="black"),
    )

fig.write_html("out.html")
